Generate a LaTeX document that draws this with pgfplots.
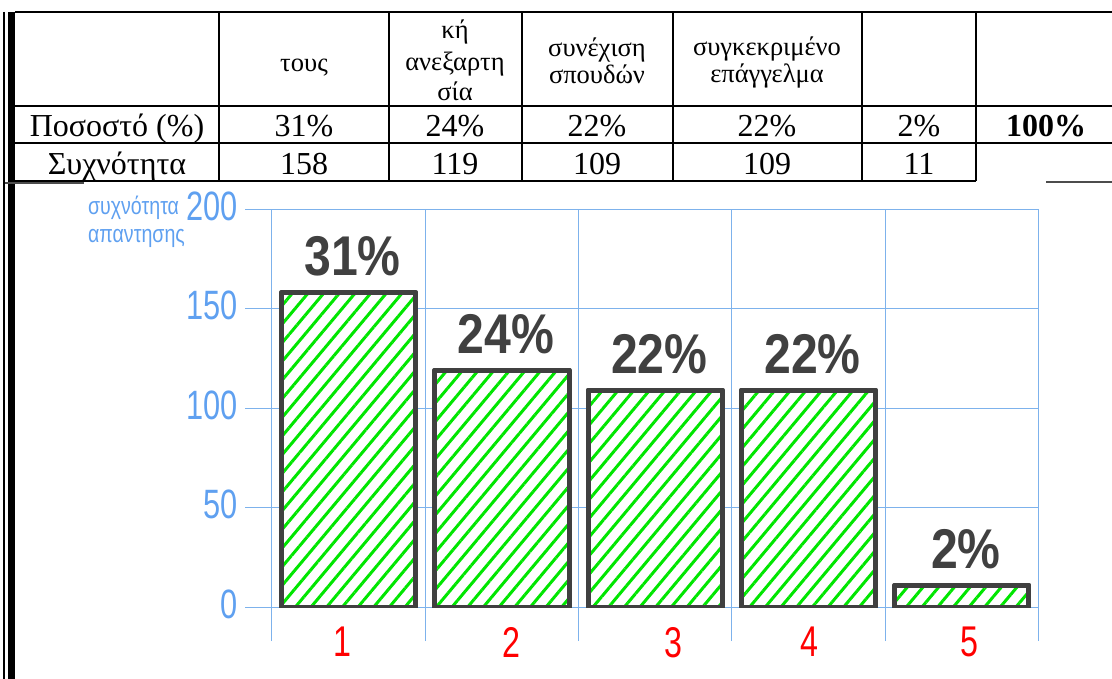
\documentclass[border=0pt]{standalone}
\usepackage{fontspec}
\setmainfont{Liberation Serif}
\newfontfamily\narrowsans[FakeStretch=0.75]{Liberation Sans}
\newfontfamily\labelsans[FakeStretch=0.8]{Liberation Sans}
\newfontfamily\pctsans[FakeStretch=0.86]{Liberation Sans}
\usepackage{pgfplots}
\pgfplotsset{compat=1.18}
\usetikzlibrary{patterns.meta}

\definecolor{gridblue}{RGB}{125,178,236}
\definecolor{tickblue}{RGB}{95,160,240}
\definecolor{barframe}{RGB}{64,64,64}
\definecolor{hatch}{RGB}{0,230,0}

\begin{document}
\begin{tikzpicture}
\useasboundingbox (0,0) rectangle (1112pt,-679pt);

% table above the chart
\begin{scope}[x=1pt, y=-1pt]
  \begin{scope}[line width=1.3pt]
    \foreach \y in {12,106,143}
      \draw (15,\y) -- (1112,\y);
    \draw (15,181) -- (976,181);
    \foreach \x in {219,389,522,673,862,976}
      \draw (\x,12) -- (\x,181);
    \draw (4,12) -- (4,679);
  \end{scope}
  \fill (8,12) rectangle (15,679);
  \draw[gray!60!black, line width=2pt] (5,183) -- (84,183);
  \draw[gray!60!black, line width=2pt] (1046,182) -- (1112,182);

  \begin{scope}[every node/.style={anchor=base, inner sep=0pt,
      font=\fontsize{26.5}{30}\selectfont}]
    \node at (304,72) {τους};
    \node at (455,39) {κή};
    \node at (455,71) {ανεξαρτη};
    \node at (455,101) {σία};
    \node at (597,57) {συνέχιση};
    \node at (597,84) {σπουδών};
    \node at (767,56) {συγκεκριμένο};
    \node at (767,83) {επάγγελμα};
  \end{scope}

  \begin{scope}[every node/.style={anchor=base, inner sep=0pt,
      font=\fontsize{32}{36}\selectfont}]
    \node at (117,137) {Ποσοστό (\%)};
    \node at (117,175) {Συχνότητα};
    \node at (304,137) {31\%};
    \node at (455,137) {24\%};
    \node at (597,137) {22\%};
    \node at (767,137) {22\%};
    \node at (919,137) {2\%};
    \node at (1046,137) {\bfseries 100\%};
    \node at (304,175) {158};
    \node at (455,175) {119};
    \node at (597,175) {109};
    \node at (767,175) {109};
    \node at (919,175) {11};
  \end{scope}
\end{scope}

\begin{axis}[
    at={(245pt,-607pt)}, anchor=south west,
    scale only axis,
    width=793.5pt, height=398pt,
    xmin=0.324, xmax=5.5,
    ymin=0, ymax=200,
    axis line style={draw=none},
    ytick={0,50,...,200},
    xtick={0.957,2.059,3.116,4.003,5.047},
    xticklabels={1,2,3,4,5},
    minor xtick={0.5,1.5,...,5.5},
    ymajorgrids, xminorgrids,
    major grid style={gridblue, line width=1pt},
    minor grid style={gridblue, line width=1pt},
    tick align=outside,
    xtick pos=left, ytick pos=left,
    major tick length=0pt,
    minor tick length=34pt,
    every minor tick/.append style={gridblue, line width=1pt},
    tick label style={/pgf/number format/assume math mode=true},
    yticklabel style={font=\narrowsans\fontsize{41}{45}\selectfont,
        text=tickblue, inner sep=0pt, anchor=east, xshift=-7pt, yshift=3pt},
    xticklabel style={font=\narrowsans\fontsize{43}{47}\selectfont,
        text=red, inner sep=0pt, anchor=north, yshift=-20pt},
    ylabel={συχνότητα\\απαντησης},
    ylabel style={rotate=-90, align=left, anchor=north west, inner sep=0pt,
        at={(axis description cs:-0.198,1.033)},
        font=\labelsans\fontsize{24.5}{28}\selectfont, text=tickblue},
    nodes near coords={\pgfplotspointmeta\%},
    point meta=explicit symbolic,
    every node near coord/.append style={
        font=\pctsans\bfseries\fontsize{56}{60}\selectfont,
        text=barframe, anchor=south, inner sep=0pt, xshift=4pt, yshift=14pt},
]
\addplot[ybar, bar width=0.875, draw=barframe, line width=5pt,
    line join=round, fill=white,
    postaction={pattern={Lines[angle=50,distance=12pt,line width=3pt]},
        pattern color=hatch}]
    coordinates {(1,158) [31] (2,119) [24] (3,109) [22] (4,109) [22] (5,11) [2]};
\end{axis}
\end{tikzpicture}
\end{document}
